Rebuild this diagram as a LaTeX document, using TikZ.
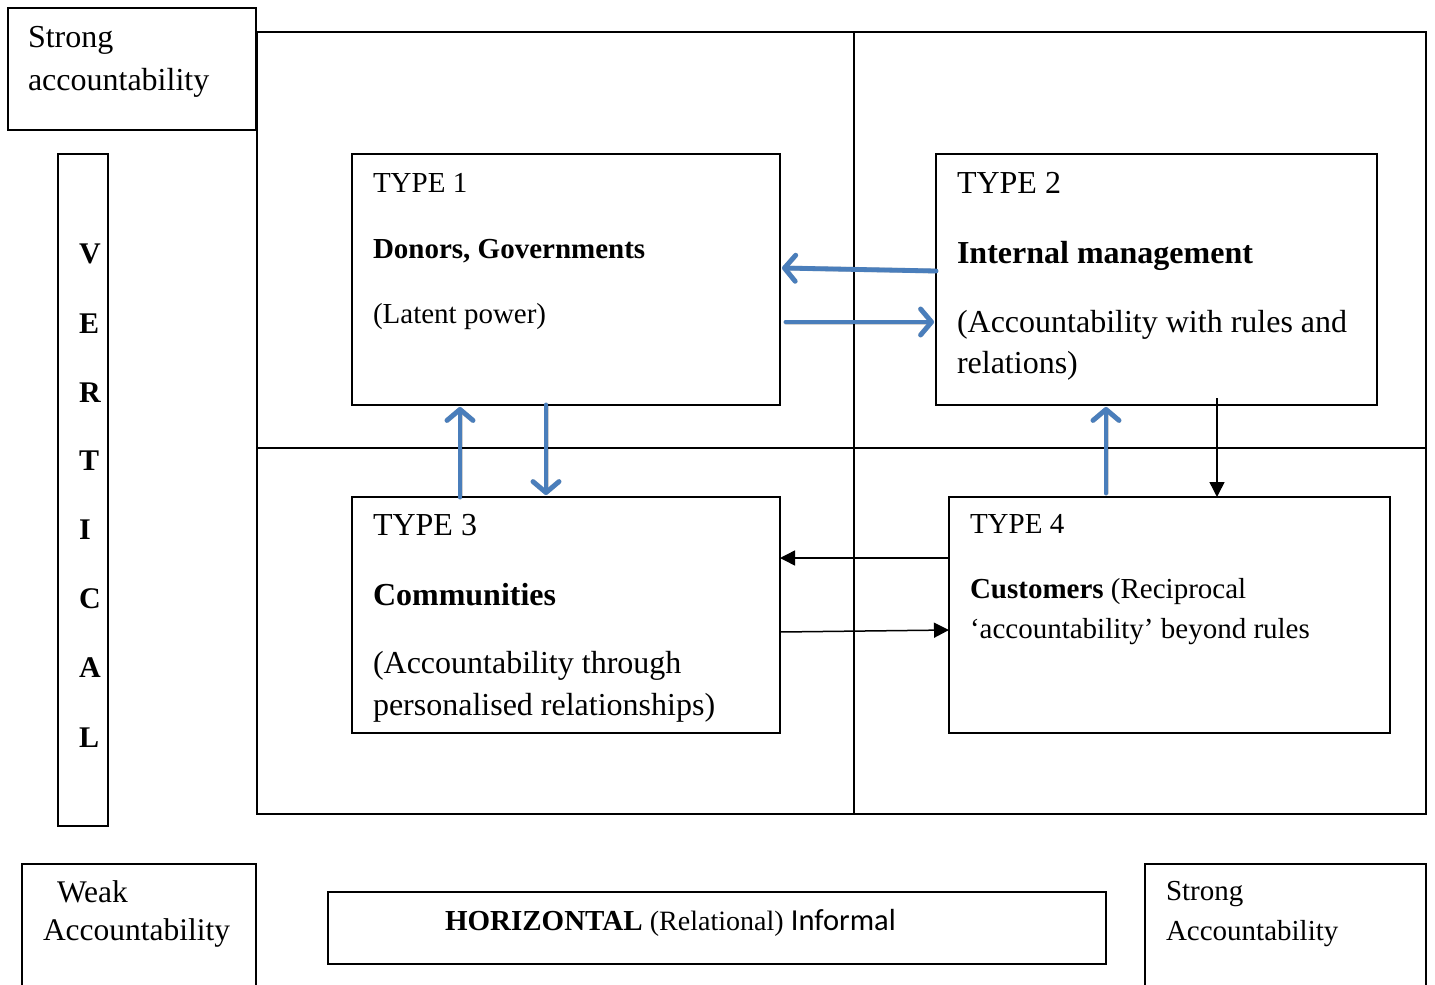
\documentclass[tikz,border=0pt]{standalone}
\usepackage{fontspec}
\setmainfont{Liberation Serif}
\newfontfamily\calibrilike{Carlito}
\usetikzlibrary{arrows.meta}

\definecolor{flowblue}{RGB}{74,126,187}

\begin{document}
\begin{tikzpicture}[x=1pt,y=-1pt,
  box/.style={draw, line width=1.8pt, inner sep=0pt, outer sep=0pt, anchor=north west, fill=white},
  gridline/.style={draw, line width=1.8pt},
  txt/.style={anchor=base west, inner sep=0pt, outer sep=0pt},
  fa/.style={font=\fontsize{29}{34}\selectfont},
  fb/.style={font=\fontsize{32}{40}\selectfont},
  vletter/.style={anchor=base west, inner sep=0pt, font=\fontsize{30}{34}\selectfont\bfseries},
  bluearrow/.style={draw=flowblue, line width=4.8pt, line cap=round,
    -{Straight Barb[length=11pt,width=26pt,line cap=round,line join=round]}},
  blueshadow/.style={draw=black, opacity=0.18, line width=5pt, line cap=round,
    -{Straight Barb[length=11pt,width=26pt,line cap=round,line join=round]}},
  thinarrow/.style={draw=black, line width=1.5pt, -{Triangle[length=15pt,width=15pt]}},
]
\useasboundingbox (0,0) rectangle (1435,985);
\clip (0,0) rectangle (1435,985);

% quadrant grid
\node[box, fill=none, minimum width=1169pt, minimum height=782pt] (grid) at (257,32) {};
\draw[gridline] (grid.north west -| 854,0) -- (grid.south west -| 854,0);
\draw[gridline] (grid.north west |- 0,448) -- (grid.north east |- 0,448);

% axis labels
\node[box, minimum width=248pt, minimum height=122pt] (sa) at (8,8) {};
\node[txt, fb] (saA) at (28,47) {Strong};
\node[txt, fb] (saB) at (28,90) {accountability};

\node[box, minimum width=50pt, minimum height=672pt] (vert) at (58,154) {};
\node[vletter] (v1) at (79,263) {V};
\node[vletter] (v2) at (79,333) {E};
\node[vletter] (v3) at (79,402) {R};
\node[vletter] (v4) at (79,470) {T};
\node[vletter] (v5) at (79,539) {I};
\node[vletter] (v6) at (79,608) {C};
\node[vletter] (v7) at (79,677) {A};
\node[vletter] (v8) at (79,747) {L};

\node[box, minimum width=234pt, minimum height=140pt] (weak) at (22,864) {};
\node[txt, font=\fontsize{31.5}{36}\selectfont] (weakA) at (57,902) {Weak};
\node[txt, font=\fontsize{31.5}{36}\selectfont] (weakB) at (43,940) {Accountability};

\node[box, minimum width=778pt, minimum height=72pt] (horiz) at (328,892) {};
\node[txt, fa] (horizT) at (445,930) {\textbf{HORIZONTAL} {\fontsize{28}{34}\selectfont(Relational)} {\calibrilike\fontsize{30.5}{34}\selectfont Informal}};

\node[box, minimum width=281pt, minimum height=140pt] (strongr) at (1145,864) {};
\node[txt, fa] (strongrA) at (1166,900) {Strong};
\node[txt, fa] (strongrB) at (1166,940) {Accountability};

% the four types
\node[box, minimum width=428pt, minimum height=251pt] (t1) at (352,154) {};
\node[txt, fa] (t1a) at (373,192) {TYPE 1};
\node[txt, fa] (t1b) at (373,258) {\textbf{Donors, Governments}};
\node[txt, fa] (t1c) at (373,323) {(Latent power)};

\node[box, minimum width=441pt, minimum height=251pt] (t2) at (936,154) {};
\node[txt, fb] (t2a) at (957,193) {TYPE 2};
\node[txt, fb] (t2b) at (957,263) {\textbf{Internal management}};
\node[txt, fb] (t2c) at (957,332) {(Accountability with rules and};
\node[txt, fb] (t2d) at (957,373) {relations)};

\node[box, minimum width=428pt, minimum height=236pt] (t3) at (352,497) {};
\node[txt, fb] (t3a) at (373,535) {TYPE 3};
\node[txt, fb] (t3b) at (373,605) {\textbf{Communities}};
\node[txt, fb] (t3c) at (373,673) {(Accountability through};
\node[txt, fb] (t3d) at (373,715) {personalised relationships)};

\node[box, minimum width=441pt, minimum height=236pt] (t4) at (949,497) {};
\node[txt, fa] (t4a) at (970,533) {TYPE 4};
\node[txt, fa] (t4b) at (970,598) {\textbf{Customers} (Reciprocal};
\node[txt, fa] (t4c) at (970,638) {`accountability' beyond rules};

% blue two-way links, with a soft drop shadow underneath
\begin{scope}[shift={(1.5,2.5)}]
  \draw[blueshadow] ([shift={(0,117)}]t2.north west) -- ([shift={(2,114)}]t1.north east);
  \draw[blueshadow] ([shift={(6,168)}]t1.north east) -- ([shift={(-2,168)}]t2.north west);
  \draw[blueshadow] ([shift={(108,0)}]t3.north west) -- ([shift={(108,2)}]t1.south west);
  \draw[blueshadow] ([shift={(194,0)}]t1.south west) -- ([shift={(194,-2)}]t3.north west);
  \draw[blueshadow] ([shift={(157,-4)}]t4.north west) -- ([shift={(170,2)}]t2.south west);
\end{scope}
\draw[bluearrow] ([shift={(0,117)}]t2.north west) -- ([shift={(2,114)}]t1.north east);
\draw[bluearrow] ([shift={(6,168)}]t1.north east) -- ([shift={(-2,168)}]t2.north west);
\draw[bluearrow] ([shift={(108,0)}]t3.north west) -- ([shift={(108,2)}]t1.south west);
\draw[bluearrow] ([shift={(194,0)}]t1.south west) -- ([shift={(194,-2)}]t3.north west);
\draw[bluearrow] ([shift={(157,-4)}]t4.north west) -- ([shift={(170,2)}]t2.south west);

% black links
\draw[thinarrow] ([shift={(281,-7)}]t2.south west) -- ([shift={(268,0)}]t4.north west);
\draw[thinarrow] ([shift={(0,61)}]t4.north west) -- ([shift={(0,61)}]t3.north east);
\draw[thinarrow] ([shift={(0,135)}]t3.north east) -- ([shift={(0,133)}]t4.north west);

\end{tikzpicture}
\end{document}
